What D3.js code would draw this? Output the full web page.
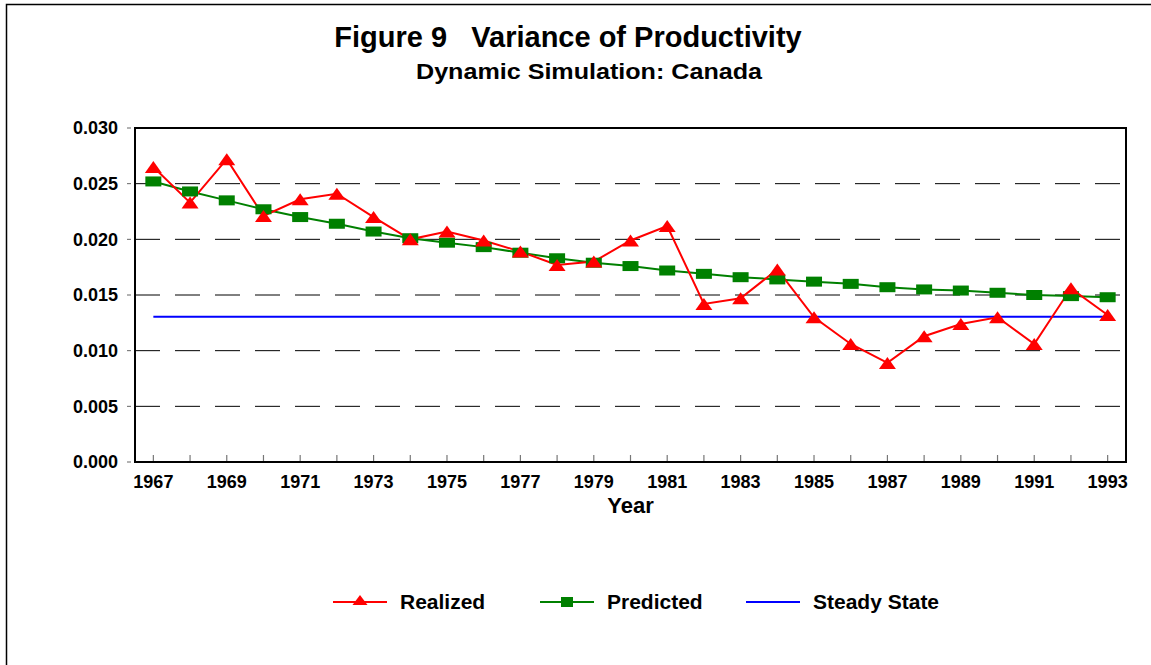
<!DOCTYPE html>
<html>
<head>
<meta charset="utf-8">
<script src="https://cdn.jsdelivr.net/npm/d3@7"></script>
<style>
  body { margin: 0; background: #fff; overflow: hidden; }
  svg { display: block; }
  svg text { font-family: "Liberation Sans", Arial, sans-serif; font-weight: bold; fill: #000; }
</style>
</head>
<body>
<div id="chart"></div>
<script>
var years = [1967, 1968, 1969, 1970, 1971, 1972, 1973, 1974, 1975, 1976, 1977, 1978, 1979, 1980,
             1981, 1982, 1983, 1984, 1985, 1986, 1987, 1988, 1989, 1990, 1991, 1992, 1993];
var realized = [0.0265, 0.0233, 0.0272, 0.0221, 0.0236, 0.0241, 0.0220, 0.0200, 0.0207, 0.0199,
                0.0189, 0.0177, 0.0180, 0.0199, 0.0212, 0.0142, 0.0147, 0.0173, 0.0130, 0.0106,
                0.0089, 0.0113, 0.0124, 0.0130, 0.0106, 0.0156, 0.0132];
var predicted = [0.0252, 0.0243, 0.0235, 0.0227, 0.0220, 0.0214, 0.0207, 0.0201, 0.0197, 0.0193,
                 0.0188, 0.0183, 0.0179, 0.0176, 0.0172, 0.0169, 0.0166, 0.0164, 0.0162, 0.0160,
                 0.0157, 0.0155, 0.0154, 0.0152, 0.0150, 0.0149, 0.0148];
var steadyState = 0.01305;
var yTicks = [0, 0.005, 0.010, 0.015, 0.020, 0.025, 0.030];
var xLabelYears = [1967, 1969, 1971, 1973, 1975, 1977, 1979, 1981, 1983, 1985, 1987, 1989, 1991, 1993];

var W = 1151, H = 665;
var margin = {top: 128, right: 25, bottom: 203, left: 135},
    width = W - margin.left - margin.right,
    height = H - margin.top - margin.bottom;

var svg = d3.select('#chart').append('svg')
    .attr('width', W)
    .attr('height', H);

// outer frame (open at right / bottom like the scan)
svg.append('rect')
    .attr('x', 6.5).attr('y', 4.5)
    .attr('width', W + 40).attr('height', H + 40)
    .attr('fill', 'none').attr('stroke', '#000').attr('stroke-width', 1.5);

// titles
svg.append('text')
    .attr('x', 568).attr('y', 47)
    .attr('text-anchor', 'middle')
    .style('font-size', '29px')
    .style('white-space', 'pre')
    .text('Figure 9   Variance of Productivity');
svg.append('text')
    .attr('x', 589).attr('y', 79)
    .attr('text-anchor', 'middle')
    .attr('textLength', 346)
    .attr('lengthAdjust', 'spacingAndGlyphs')
    .style('font-size', '22px')
    .text('Dynamic Simulation: Canada');

var x = d3.scaleBand()
    .domain(years)
    .range([0, width]);
var xc = function(d) { return x(d) + x.bandwidth() / 2; };

var y = d3.scaleLinear()
    .domain([0, 0.030])
    .range([height, 0]);

var graph = svg.append('g')
    .attr('transform', 'translate(' + margin.left + ',' + margin.top + ')');

// dashed gridlines
graph.selectAll('.grid')
  .data(yTicks.filter(function(d) { return d > 0 && d < 0.030; }))
  .enter().append('line')
    .attr('class', 'grid')
    .attr('x1', 0).attr('x2', width)
    .attr('y1', function(d) { return y(d); })
    .attr('y2', function(d) { return y(d); })
    .attr('stroke', '#000')
    .attr('stroke-width', 1)
    .attr('stroke-dasharray', '25,15');

// y axis
var yAxisG = graph.append('g')
    .call(d3.axisLeft(y).tickValues(yTicks).tickFormat(d3.format('.3f')).tickSize(0).tickPadding(17));
yAxisG.select('.domain').remove();
yAxisG.selectAll('text').style('font-size', '18px').style('font-family', null);
graph.selectAll('.ytick')
  .data(yTicks)
  .enter().append('line')
    .attr('x1', -8).attr('x2', -4)
    .attr('y1', function(d) { return y(d); })
    .attr('y2', function(d) { return y(d); })
    .attr('stroke', '#666').attr('stroke-width', 1);

// x axis ticks (inside, every year)
graph.selectAll('.xtick')
  .data(years)
  .enter().append('line')
    .attr('x1', xc).attr('x2', xc)
    .attr('y1', height).attr('y2', height - 7)
    .attr('stroke', '#777').attr('stroke-width', 1.2);

graph.selectAll('.xlabel')
  .data(xLabelYears)
  .enter().append('text')
    .attr('x', xc)
    .attr('y', height + 26)
    .attr('text-anchor', 'middle')
    .style('font-size', '18px')
    .text(function(d) { return d; });

graph.append('text')
    .attr('x', width / 2)
    .attr('y', height + 51)
    .attr('text-anchor', 'middle')
    .style('font-size', '22px')
    .text('Year');

// plot frame
graph.append('rect')
    .attr('x', 0).attr('y', 0)
    .attr('width', width).attr('height', height)
    .attr('fill', 'none').attr('stroke', '#000').attr('stroke-width', 2);

// steady state
graph.append('line')
    .attr('x1', xc(years[0])).attr('x2', xc(years[years.length - 1]))
    .attr('y1', y(steadyState)).attr('y2', y(steadyState))
    .attr('stroke', '#0000ff').attr('stroke-width', 2);

var triangle = function(cx, cy, w, h) {
  return 'M' + (cx - w / 2) + ',' + (cy + h / 2) + 'L' + cx + ',' + (cy - h / 2) + 'L' + (cx + w / 2) + ',' + (cy + h / 2) + 'Z';
};

var seriesLine = d3.line()
    .x(function(d, i) { return xc(years[i]); })
    .y(function(d) { return y(d); });

// predicted
graph.append('path')
    .attr('d', seriesLine(predicted))
    .attr('fill', 'none').attr('stroke', '#008000').attr('stroke-width', 2);

// realized
graph.append('path')
    .attr('d', seriesLine(realized))
    .attr('fill', 'none').attr('stroke', '#ff0000').attr('stroke-width', 2);

graph.selectAll('.sq')
  .data(predicted)
  .enter().append('rect')
    .attr('x', function(d, i) { return xc(years[i]) - 8; })
    .attr('y', function(d) { return y(d) - 5; })
    .attr('width', 16).attr('height', 10)
    .attr('fill', '#008000');

graph.selectAll('.tri')
  .data(realized)
  .enter().append('path')
    .attr('d', function(d, i) { return triangle(xc(years[i]), y(d), 17, 12); })
    .attr('fill', '#ff0000');

// legend
var legendItems = [
  {name: 'Realized', color: '#ff0000', marker: 'tri', x: 333},
  {name: 'Predicted', color: '#008000', marker: 'sq', x: 540},
  {name: 'Steady State', color: '#0000ff', marker: 'none', x: 746}
];
var legend = svg.append('g');
legendItems.forEach(function(item) {
  var g = legend.append('g').attr('transform', 'translate(' + item.x + ',602)');
  g.append('line')
      .attr('x1', 0).attr('x2', 54).attr('y1', 0).attr('y2', 0)
      .attr('stroke', item.color).attr('stroke-width', 2);
  if (item.marker === 'tri') {
    g.append('path').attr('d', triangle(27, -2, 15, 10)).attr('fill', item.color);
  } else if (item.marker === 'sq') {
    g.append('rect').attr('x', 21).attr('y', -5).attr('width', 12).attr('height', 10).attr('fill', item.color);
  }
  g.append('text')
      .attr('x', 67).attr('y', 7)
      .style('font-size', '21px')
      .text(item.name);
});
</script>
</body>
</html>
